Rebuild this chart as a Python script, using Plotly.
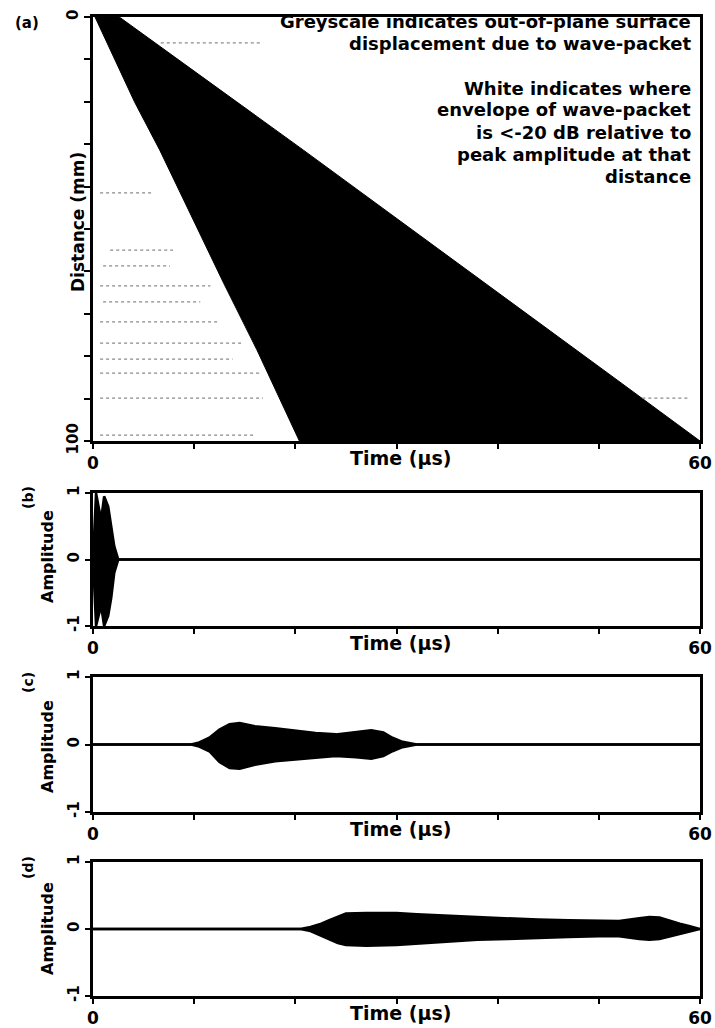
import plotly.graph_objects as go

W, H = 715, 1028

# ---------------- data ----------------
# Panel (a): boundary of the wave-packet region (distance in mm, time in us)
left_dist = [0, 20, 31.4, 50, 62.7, 78.5, 94.3, 100]
left_time = [0.2, 4.1, 6.6, 10.3, 12.9, 16.2, 19.3, 20.4]
right_dist = [0, 31.4, 85.6, 100]
right_time = [2.6, 20.8, 51.8, 60]

# faint dotted low-level rows in panel (a)
dot_dist = [6.1, 41.5, 55, 58.7, 63.4, 67.2, 71.9, 76.9, 80.7, 84, 89.9, 98.6, 89.9]
dot_t0 = [6.7, 0.7, 1.7, 1.0, 0.7, 1.0, 0.7, 0.7, 0.7, 0.7, 0.7, 0.7, 54.3]
dot_t1 = [16.5, 5.9, 7.9, 7.6, 11.6, 10.6, 12.5, 14.7, 13.8, 16.5, 16.8, 16.0, 59.0]

# Panel (b): envelope of waveform
b_time = [0, 0.3, 0.8, 1.1, 1.5, 1.8, 2.1, 2.5, 60]
b_upper = [0, 1.0, 0.6, 0.95, 0.8, 0.5, 0.2, 0, 0]
b_lower = [0, -1.0, -0.7, -1.0, -0.85, -0.58, -0.2, 0, 0]

# Panel (c)
c_time = [0, 9.7, 10.5, 11.5, 12.5, 13.5, 14.5, 16, 18, 20, 22, 24, 26, 27.5, 28.7, 29.6, 30.6, 32, 60]
c_upper = [0, 0, 0.03, 0.1, 0.22, 0.3, 0.32, 0.27, 0.24, 0.2, 0.17, 0.15, 0.18, 0.21, 0.18, 0.1, 0.04, 0, 0]
c_lower = [0, 0, -0.03, -0.1, -0.26, -0.35, -0.36, -0.3, -0.25, -0.22, -0.19, -0.17, -0.19, -0.21, -0.17, -0.1, -0.04, 0, 0]

# Panel (d)
d_time = [0, 20.5, 21.5, 22.4, 23.3, 24.2, 25, 27, 30, 32, 35, 38, 41, 44, 47, 50, 52, 54, 55, 56, 57, 58, 59, 60]
d_upper = [0, 0, 0.03, 0.07, 0.13, 0.18, 0.23, 0.24, 0.24, 0.22, 0.2, 0.17, 0.15, 0.14, 0.13, 0.12, 0.12, 0.16, 0.18, 0.17, 0.12, 0.08, 0.04, 0]
d_lower = [0, 0, -0.03, -0.09, -0.16, -0.21, -0.24, -0.25, -0.24, -0.22, -0.19, -0.16, -0.15, -0.13, -0.12, -0.11, -0.11, -0.15, -0.16, -0.15, -0.11, -0.07, -0.03, 0]

time_ticks = [0, 10, 20, 30, 40, 50, 60]
time_ticktext = ["0", "", "", "", "", "", "60"]
dist_ticks = [0, 10, 20, 30, 40, 50, 60, 70, 80, 90, 100]
dist_ticktext = ["0", "", "", "", "", "", "", "", "", "", "100"]
amp_ticks = [-1, 0, 1]
amp_ticktext = ["-1", "0", "1"]

note_lines = [
    "Greyscale indicates out-of-plane surface",
    "displacement due to wave-packet",
    "White indicates where",
    "envelope of wave-packet",
    "is <-20 dB relative to",
    "peak amplitude at that",
    "distance",
]
panel_labels = ["(a)", "(b)", "(c)", "(d)"]

# ---------------- layout geometry (pixels) ----------------
X0, X1 = 93, 700
panels_px = [(17, 441), (493, 626), (677, 812), (862, 996)]  # (top, bottom)

FONT = "DejaVu Sans"


def fy(py):
    return 1 - py / H


def fx(px):
    return px / W


fig = go.Figure()

# panel (a) polygon
poly_t = left_time + right_time[::-1]
poly_d = left_dist + right_dist[::-1]
fig.add_trace(go.Scatter(x=poly_t, y=poly_d, mode="lines", fill="toself",
                         fillcolor="black", line=dict(color="black", width=1),
                         xaxis="x", yaxis="y", hoverinfo="skip"))

dx, dy = [], []
for d, t0, t1 in zip(dot_dist, dot_t0, dot_t1):
    dx += [t0, t1, None]
    dy += [d, d, None]
fig.add_trace(go.Scatter(x=dx, y=dy, mode="lines",
                         line=dict(color="#8a8a8a", width=1.3, dash="dot"),
                         xaxis="x", yaxis="y", hoverinfo="skip"))

waves = [(b_time, b_upper, b_lower), (c_time, c_upper, c_lower), (d_time, d_upper, d_lower)]
for i, (t, up, lo) in enumerate(waves):
    xa = "x%d" % (i + 2)
    ya = "y%d" % (i + 2)
    fig.add_trace(go.Scatter(x=t, y=up, mode="lines", line=dict(color="black", width=2.5),
                             xaxis=xa, yaxis=ya, hoverinfo="skip"))
    fig.add_trace(go.Scatter(x=t, y=lo, mode="lines", line=dict(color="black", width=2.5),
                             fill="tonexty", fillcolor="black",
                             xaxis=xa, yaxis=ya, hoverinfo="skip"))

tickfont = dict(family=FONT, size=17, color="black", weight="bold")
rot_tickfont = dict(family=FONT, size=15, color="black", weight="bold")

layout = dict(
    width=W, height=H, margin=dict(l=0, r=0, t=0, b=0, pad=0), autosize=False,
    paper_bgcolor="white", plot_bgcolor="white", showlegend=False,
    font=dict(family=FONT, color="black"),
)

for i, (top, bot) in enumerate(panels_px):
    sfx = "" if i == 0 else str(i + 1)
    xkey, ykey = "xaxis" + sfx, "yaxis" + sfx
    layout[xkey] = dict(
        domain=[fx(X0), fx(X1)], anchor="y" + sfx, range=[0, 60], automargin=False,
        showline=True, linewidth=2.5, linecolor="black", mirror=True,
        ticks="outside", ticklen=5, tickwidth=2, tickcolor="black",
        tickvals=time_ticks, ticktext=time_ticktext, tickfont=tickfont,
        showgrid=False, zeroline=False, fixedrange=True,
    )
    if i == 0:
        layout[ykey] = dict(
            domain=[fy(bot), fy(top)], anchor="x", range=[100, 0], automargin=False,
            showline=True, linewidth=2.5, linecolor="black", mirror=True,
            ticks="outside", ticklen=6, tickwidth=2, tickcolor="black",
            tickvals=dist_ticks, ticktext=dist_ticktext, tickangle=-90,
            tickfont=rot_tickfont, showgrid=False, zeroline=False, fixedrange=True,
        )
    else:
        layout[ykey] = dict(
            domain=[fy(bot), fy(top)], anchor="x" + sfx, range=[-1, 1], automargin=False,
            showline=True, linewidth=2.5, linecolor="black", mirror=True,
            ticks="outside", ticklen=5, tickwidth=2, tickcolor="black",
            tickvals=amp_ticks, ticktext=amp_ticktext, tickangle=-90,
            tickfont=rot_tickfont, showgrid=False, zeroline=False, fixedrange=True,
        )

fig.update_layout(**layout)

ann = []
# Time labels
for top, bot in panels_px:
    ann.append(dict(text="Time (\u00b5s)", x=fx(400), y=fy(bot + 17), xref="paper", yref="paper",
                    xanchor="center", yanchor="middle", showarrow=False,
                    font=dict(family=FONT, size=19, color="black", weight="bold")))
# Distance label
ann.append(dict(text="Distance (mm)", x=fx(78), y=fy(222), xref="paper", yref="paper",
                xanchor="center", yanchor="middle", showarrow=False, textangle=-90,
                font=dict(family=FONT, size=17, color="black", weight="bold")))
# Amplitude labels
for cy in [557, 747, 929]:
    ann.append(dict(text="Amplitude", x=fx(47), y=fy(cy), xref="paper", yref="paper",
                    xanchor="center", yanchor="middle", showarrow=False, textangle=-90,
                    font=dict(family=FONT, size=16, color="black", weight="bold")))
# panel labels
ann.append(dict(text=panel_labels[0], x=fx(27), y=fy(23), xref="paper", yref="paper",
                xanchor="center", yanchor="middle", showarrow=False,
                font=dict(family=FONT, size=15, color="black", weight="bold")))
for lab, cy in zip(panel_labels[1:], [498, 683, 868]):
    ann.append(dict(text=lab, x=fx(28), y=fy(cy), xref="paper", yref="paper",
                    xanchor="center", yanchor="middle", showarrow=False, textangle=-90,
                    font=dict(family=FONT, size=14, color="black", weight="bold")))
# note text
note_y = [21, 44, 88, 110, 132, 154, 176]
for txt, cy in zip(note_lines, note_y):
    ann.append(dict(text=txt.replace("<", "&lt;"), x=fx(693), y=fy(cy), xref="paper", yref="paper",
                    xanchor="right", yanchor="middle", showarrow=False,
                    font=dict(family=FONT, size=18, color="black", weight="bold")))

fig.update_layout(annotations=ann)
fig.write_html(
    "out.html",
    config=dict(displayModeBar=False, responsive=False),
    post_script="document.body.style.margin='0';document.body.style.padding='0';"
                "document.documentElement.style.overflow='hidden';",
)
